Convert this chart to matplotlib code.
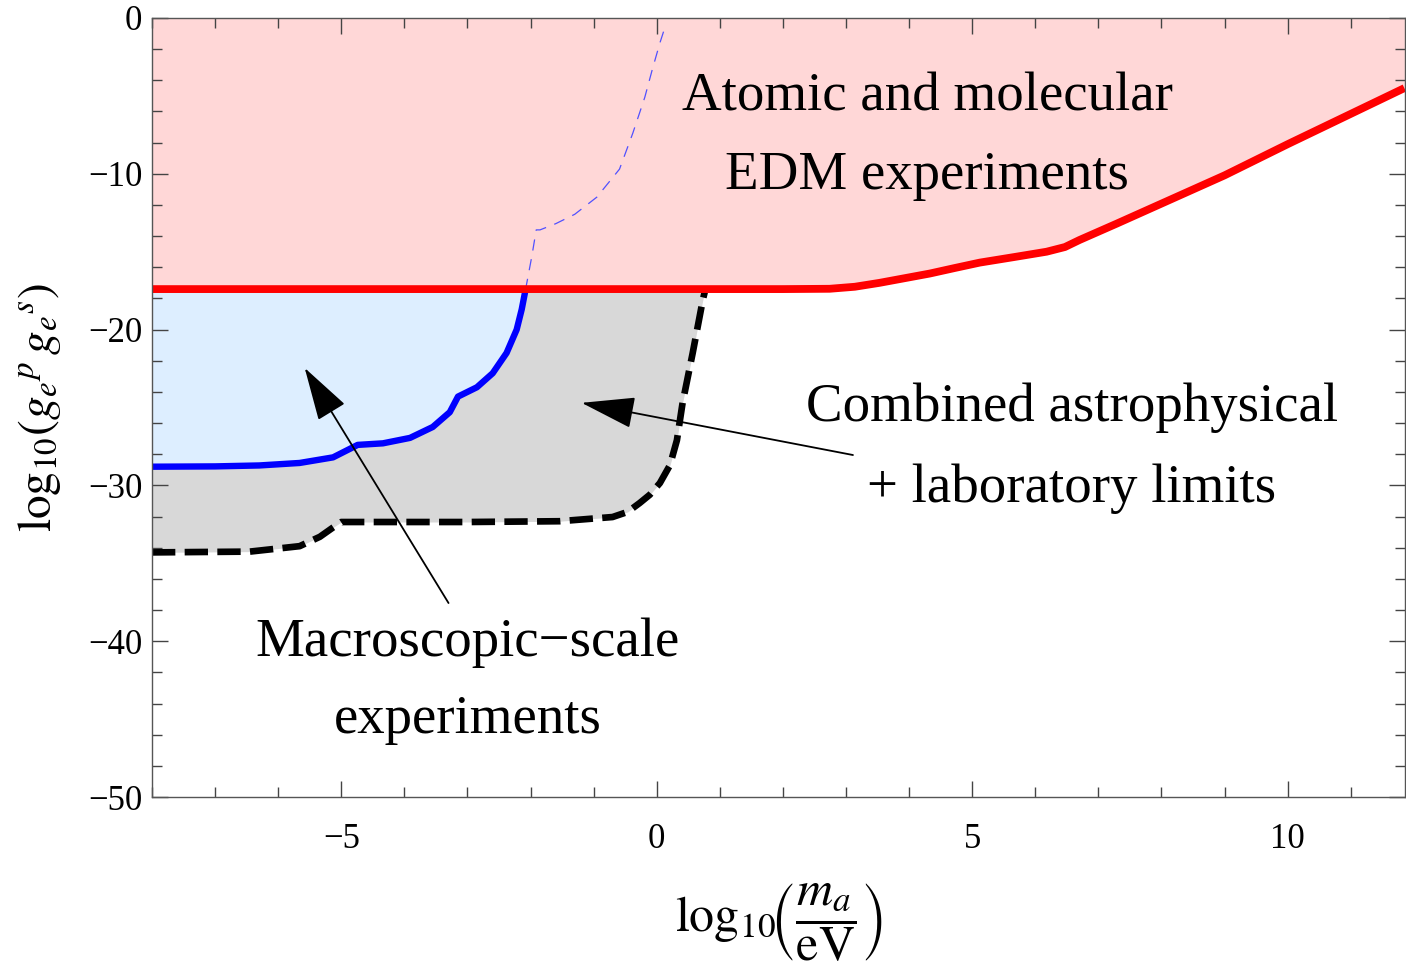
import matplotlib.pyplot as plt
from matplotlib.ticker import MultipleLocator

plt.rcParams['font.family'] = ['Liberation Serif', 'DejaVu Serif']
plt.rcParams['mathtext.fontset'] = 'stix'

# EDM bound (red)
edm_x = [-8.0, 2.0, 2.74, 3.14, 3.53, 3.93, 4.33, 4.72, 5.12, 5.67, 6.18, 6.47, 6.70, 7.29,
         9.0, 10.0, 11.85]
edm_y = [-17.4, -17.4, -17.38, -17.25, -17.0, -16.7, -16.4, -16.05, -15.7, -15.34, -15.0, -14.7,
         -14.25, -13.2, -10.1, -8.1, -4.5]

# macroscopic-scale experiments (blue)
macro_x = [-8.0, -7.0, -6.3, -5.66, -5.13, -4.74, -4.34, -3.91, -3.55, -3.28, -3.15,
           -2.85, -2.6, -2.38, -2.22, -2.14, -2.08]
macro_y = [-28.8, -28.78, -28.72, -28.56, -28.2, -27.4, -27.3, -26.95, -26.25, -25.3, -24.3,
           -23.7, -22.8, -21.5, -20.0, -18.7, -17.45]

# continuation of macroscopic bound inside EDM region (thin dashed)
macro_ext_x = [-2.08, -1.98, -1.91, -1.85, -1.6, -1.3, -0.95, -0.59, -0.38, -0.19, -0.07, 0.05, 0.13]
macro_ext_y = [-17.45, -15.3, -13.6, -13.6, -13.2, -12.6, -11.5, -9.7, -7.4, -5.1, -3.3, -1.6, -0.6]

# combined astrophysical + laboratory (black dashed)
comb_x = [-8.0, -6.45, -5.66, -5.34, -5.13, -5.0, -3.0, -1.54, -0.70, -0.46, -0.27, -0.11,
          0.05, 0.21, 0.32, 0.41, 0.57, 0.73, 0.76]
comb_y = [-34.3, -34.25, -33.9, -33.3, -32.7, -32.35, -32.35, -32.3, -32.03, -31.7, -31.13, -30.6,
          -29.85, -28.7, -27.1, -24.7, -21.5, -18.1, -17.6]

fig = plt.figure(figsize=(14.06, 9.73), dpi=100)
ax = fig.add_axes([152 / 1406, 1 - 797 / 973, 1253 / 1406, 779 / 973])

ax.fill_between(edm_x, edm_y, 0, color='#ffd7d7', lw=0)
ax.fill_between(comb_x, comb_y, -17.4, color='#d8d8d8', lw=0)
ax.fill_between(macro_x, macro_y, -17.4, color='#ddeeff', lw=0)

ax.plot(macro_ext_x, macro_ext_y, color='#5050ff', lw=0.9, dashes=(9, 7))
ax.plot(comb_x, comb_y, color='black', lw=4.8, dashes=(3.5, 1.4))
ax.plot(macro_x, macro_y, color='#0000ff', lw=4.6, solid_capstyle='butt', solid_joinstyle='round')
ax.plot(edm_x, edm_y, color='#ff0000', lw=5.6, solid_capstyle='butt', solid_joinstyle='round')

head = '-|>,head_length=3.4,head_width=1.0'
ax.annotate('', xy=(-1.19, -24.7), xytext=(3.11, -28.05),
            arrowprops=dict(arrowstyle=head, color='black', lw=1.3, shrinkA=0, shrinkB=0))
ax.annotate('', xy=(-5.58, -22.46), xytext=(-3.30, -37.55),
            arrowprops=dict(arrowstyle=head, color='black', lw=1.3, shrinkA=0, shrinkB=0))

txt = dict(fontsize=39.5, ha='center', va='center')
ax.text(4.29, -5.1, 'Atomic and molecular', **txt)
ax.text(4.29, -10.15, 'EDM experiments', **txt)
ax.text(6.58, -25.0, 'Combined astrophysical', **txt)
ax.text(6.58, -30.2, '+ laboratory limits', **txt)
ax.text(-3.0, -40.1, 'Macroscopic\u2212scale', **txt)
ax.text(-3.0, -45.05, 'experiments', **txt)

ax.set_xlim(-8, 11.86)
ax.set_ylim(-50, 0)
ax.xaxis.set_major_locator(MultipleLocator(5))
ax.xaxis.set_minor_locator(MultipleLocator(1))
ax.yaxis.set_major_locator(MultipleLocator(10))
ax.yaxis.set_minor_locator(MultipleLocator(2))
ax.tick_params(which='both', direction='in', top=True, right=True, color='#444444', width=1)
ax.tick_params(which='major', length=11.5, labelsize=25)
ax.tick_params(which='minor', length=7)
ax.tick_params(axis='x', which='major', pad=19)
ax.tick_params(axis='y', which='major', pad=7)
for s in ax.spines.values():
    s.set_color('#555555')
    s.set_linewidth(1)

ax.set_xlabel(r'$\mathrm{log}_{10}\!\left(\dfrac{m_a}{\mathrm{eV}}\right)$', fontsize=36, labelpad=18)
ax.set_ylabel(r'$\mathrm{log}_{10}(g_e{}^p\,g_e{}^s)$', fontsize=34, labelpad=18)

fig.savefig('out.png', dpi=100)
